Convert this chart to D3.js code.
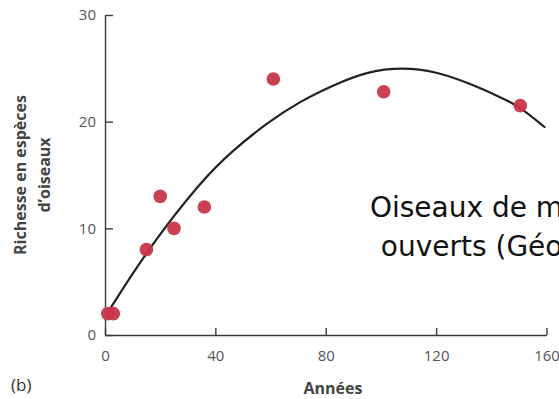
<!DOCTYPE html>
<html>
<head>
<meta charset="utf-8">
<script src="https://cdn.jsdelivr.net/npm/d3@7/dist/d3.min.js"></script>
<style>
  html, body { margin: 0; padding: 0; background: #fff; overflow: hidden; }
  svg { display: block; }
</style>
</head>
<body>
<svg id="chart" width="559" height="399"></svg>
<script>
// Observed bird species richness by stand age
const years    = [1, 3, 15, 20, 25, 36, 61, 101, 150.5];
const richness = [2, 2, 8, 13, 10, 12, 24, 22.8, 21.5];

// Fitted trend line, sampled along its length
const fitYears    = [1.2, 15.7, 35, 46.3, 58.5, 70.6, 82.6, 94.7, 108, 120, 132.1, 144.2, 150.2, 159.3];
const fitRichness = [2.2, 8.1, 14.5, 17.3, 19.85, 21.9, 23.4, 24.7, 25.1, 24.7, 23.6, 22.2, 21.4, 19.5];

const xTicks = [0, 40, 80, 120, 160];
const yTicks = [0, 10, 20, 30];

const svg = d3.select("#chart");

const x = d3.scaleLinear().domain([0, 160]).range([105, 546.5]);
const y = d3.scaleLinear().domain([0, 30]).range([335, 15]);

const axisColor = "#3a3a3a";
const labelColor = "#555";

// X axis
const gx = svg.append("g")
  .attr("transform", `translate(0,${y(0)})`)
  .call(d3.axisBottom(x).tickValues(xTicks).tickSizeInner(-7).tickSizeOuter(0).tickPadding(15));

// Y axis
const gy = svg.append("g")
  .attr("transform", `translate(${x(0)},0)`)
  .call(d3.axisLeft(y).tickValues(yTicks).tickSizeInner(-8).tickSizeOuter(0).tickPadding(9));

[gx, gy].forEach(g => {
  g.select(".domain").attr("stroke", axisColor).attr("stroke-width", 1.4);
  g.selectAll(".tick line").attr("stroke", axisColor).attr("stroke-width", 1.4);
  g.selectAll(".tick text")
    .attr("fill", labelColor)
    .style("font-family", "'Open Sans', sans-serif")
    .style("font-size", "15px");
});

// Smooth trend line
const line = d3.line()
  .x((d, i) => x(fitYears[i]))
  .y((d, i) => y(fitRichness[i]))
  .curve(d3.curveBasis);

svg.append("path")
  .datum(fitYears)
  .attr("d", line)
  .attr("fill", "none")
  .attr("stroke", "#222")
  .attr("stroke-width", 2.2)
  .attr("stroke-linecap", "round");

// Observations
svg.append("g")
  .selectAll("circle")
  .data(years)
  .join("circle")
  .attr("cx", d => x(d))
  .attr("cy", (d, i) => y(richness[i]))
  .attr("r", 6.8)
  .attr("fill", "#c8364a")
  .attr("fill-opacity", 0.95);

// Axis titles
svg.append("text")
  .attr("x", 333)
  .attr("y", 394)
  .attr("text-anchor", "middle")
  .attr("fill", "#444")
  .style("font-family", "'Open Sans', sans-serif")
  .style("font-size", "16px")
  .style("font-weight", "bold")
  .text("Années");

const yTitle = svg.append("text")
  .attr("transform", "translate(0,175) rotate(-90)")
  .attr("text-anchor", "middle")
  .attr("fill", "#444")
  .style("font-family", "'Open Sans', sans-serif")
  .style("font-size", "16px")
  .style("font-weight", "bold");
yTitle.append("tspan").attr("x", 0).attr("y", 25.5).text("Richesse en espèces");
yTitle.append("tspan").attr("x", 0).attr("y", 50).text("d’oiseaux");

// Panel letter
svg.append("text")
  .attr("x", 11)
  .attr("y", 391)
  .attr("fill", "#333")
  .style("font-family", "'Open Sans', sans-serif")
  .style("font-size", "17px")
  .text("(b)");

// Caption overlay
const caption = svg.append("text")
  .attr("text-anchor", "middle")
  .attr("fill", "#111")
  .style("font-family", "'DejaVu Sans', sans-serif")
  .style("font-size", "28px");
caption.append("tspan").attr("x", 504).attr("y", 217).text("Oiseaux de milieux");
caption.append("tspan").attr("x", 504).attr("y", 256).text("ouverts (Géorgie)");
</script>
</body>
</html>
